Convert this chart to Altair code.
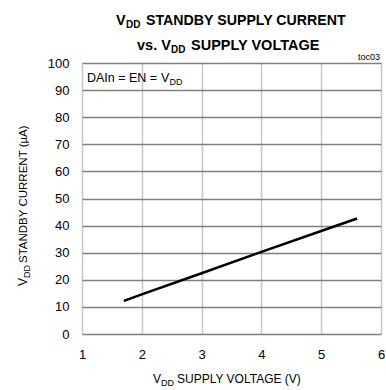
import altair as alt
import pandas as pd

# Supply voltage (V) and standby current (uA)
voltage = [1.7, 2.0, 3.0, 4.0, 5.0, 5.6]
current = [12.2, 14.6, 22.4, 30.3, 38.0, 42.6]

x_ticks = [1, 2, 3, 4, 5, 6]
y_ticks = [0, 10, 20, 30, 40, 50, 60, 70, 80, 90, 100]

FONT = "Liberation Sans"
W, H = 299, 271

df = pd.DataFrame({"v": voltage, "i": current})

line = alt.Chart(df).mark_line(color="black", strokeWidth=2.5, clip=True).encode(
    x=alt.X("v:Q", scale=alt.Scale(domain=[1, 6], nice=False),
            axis=alt.Axis(values=x_ticks, title=None, ticks=False, domain=False,
                          labelFontSize=13, labelFont=FONT, labelColor="black",
                          labelPadding=14, gridColor="#c8c8c8", gridWidth=1.5,
                          labelFlush=False, format="d")),
    y=alt.Y("i:Q", scale=alt.Scale(domain=[0, 100], nice=False),
            axis=alt.Axis(values=y_ticks, title=None, ticks=False, domain=False,
                          labelFontSize=13, labelFont=FONT, labelColor="black",
                          labelPadding=13, gridColor="#808080", gridWidth=1.5,
                          labelFlush=False)),
)


def txt(s, x, y, size, bold=False, angle=0, align="left"):
    kw = dict(text=s, align=align, baseline="alphabetic", font=FONT, fontSize=size,
              fontWeight="bold" if bold else "normal", color="black")
    if angle:
        kw["angle"] = angle
    return alt.Chart(alt.Data(values=[{}])).mark_text(**kw).encode(
        x=alt.value(x), y=alt.value(y))


texts = [
    # title, line 1
    txt("V", 34, -38, 14.5, True),
    txt("DD", 44, -35, 10, True),
    txt("STANDBY SUPPLY CURRENT", 64, -38, 14.2, True),
    # title, line 2
    txt("vs. V", 55, -13, 14.5, True),
    txt("DD", 89, -10, 10, True),
    txt("SUPPLY VOLTAGE", 109, -13, 14.5, True),
    # x axis title
    txt("V", 71, 320, 12),
    txt("DD", 79, 323, 9),
    txt("SUPPLY VOLTAGE (V)", 95, 320, 12),
    # y axis title
    txt("V", -55, 223, 12, angle=270),
    txt("DD", -52, 215, 9, angle=270),
    txt("STANDBY CURRENT (\u00b5A)", -55, 200, 11.5, angle=270),
    # condition note
    txt("DAIn = EN = ", 5, 19, 12.5),
    txt("V", 79, 19, 12.5),
    txt("DD", 87.5, 22, 9),
    txt("toc03", 298, -3, 9, align="right"),
]

chart = alt.layer(line, *texts).properties(
    width=W, height=H,
    autosize=alt.AutoSizeParams(type="none"),
    padding={"left": 82, "top": 63, "right": 5, "bottom": 56},
).configure_view(stroke="black", strokeWidth=2.5).configure(background="white")

chart.save("out.html", embed_options={"renderer": "svg", "actions": False})
